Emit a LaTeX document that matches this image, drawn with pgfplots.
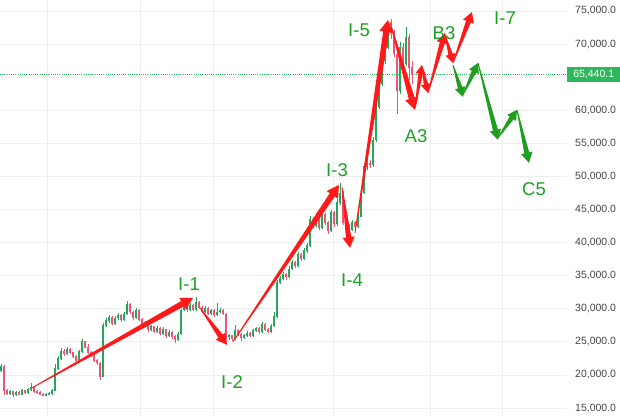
\documentclass[border=0pt]{standalone}
\usepackage{fontspec}
\setmainfont{Liberation Sans}
\usepackage{pgfplots}
\pgfplotsset{compat=1.18}
\usepackage{pgfplotstable}
\usetikzlibrary{calc}

\definecolor{cgreen}{RGB}{38,166,91}
\definecolor{cred}{RGB}{239,83,117}
\definecolor{arred}{RGB}{255,25,25}
\definecolor{argreen}{RGB}{32,158,32}
\definecolor{labgreen}{RGB}{28,160,36}
\definecolor{pricegreen}{RGB}{46,184,92}
\definecolor{gridgray}{RGB}{238,238,238}
\definecolor{tickgray}{RGB}{70,70,70}

% tapered arrow: [scale], colour, x1, y1, x2, y2
\newcommand{\tarr}[6][1]{%
  \coordinate (tA) at (axis cs:#3,#4);
  \coordinate (tB) at (axis cs:#5,#6);
  \coordinate (tC) at ($(tB)!#1*12pt!(tA)$);
  \fill[#2] ($(tA)!0.4pt!90:(tB)$) -- ($(tC)!#1*3pt!90:(tB)$) -- ($(tC)!#1*6.8pt!90:(tB)$) -- (tB)
     -- ($(tC)!#1*6.8pt!-90:(tB)$) -- ($(tC)!#1*3pt!-90:(tB)$) -- ($(tA)!0.4pt!-90:(tB)$) -- cycle;}

\pgfplotstableread{
x o h l c
1 20600 21700 20400 21300
4 21300 21500 17000 17600
7 17600 17900 16900 17200
10 17200 17700 16900 17500
13 17500 17600 16700 17000
16 17000 17600 16800 17400
19 17400 17500 16900 17100
22 17100 17800 16900 17600
25 17600 17700 17100 17300
28 17300 18000 17100 17800
31 17800 18800 17600 18100
34 18100 18300 17300 17500
37 17500 17700 17100 17300
40 17300 17500 16900 17100
43 17100 17300 16800 16900
46 16900 17200 16800 17000
49 17000 17400 16900 17200
52 17200 17800 17000 17600
55 17600 21600 17500 21000
58 21000 22800 20800 22500
61 22500 24000 22200 23600
64 23600 23900 22900 23200
67 23200 24200 23000 23800
70 23800 24000 23100 23400
73 23400 23500 22500 22800
76 22800 23000 21700 22200
79 22200 23800 22000 23500
82 23500 25400 23300 25000
85 25000 25200 24000 24200
88 24200 24600 23200 23400
91 23400 23600 22700 23000
94 23000 23300 22000 22200
97 22200 22400 21500 21800
100 21800 22000 19300 19800
103 19800 27800 19700 27500
106 27500 28600 27200 28200
109 28200 29100 27900 28700
112 28700 28900 27500 27800
115 27800 28900 27600 28600
118 28600 29300 28300 29000
121 29000 29200 28000 28300
124 28300 29500 28100 29200
127 29200 31200 29000 30600
130 30600 30900 29200 29500
133 29500 29700 28300 28600
136 28600 30100 28400 29800
139 29800 30000 28100 28400
142 28400 28600 27100 27400
145 27400 28200 27200 27900
148 27900 28000 26500 26800
151 26800 27600 26600 27300
154 27300 27400 26300 26600
157 26600 27400 26400 27100
160 27100 27200 26000 26300
163 26300 27200 26100 26900
166 26900 27000 25600 25900
169 25900 26800 25700 26500
172 26500 26600 25500 25800
175 25800 26000 24900 25300
178 25300 26500 25100 26200
181 26200 30000 26000 29800
184 29800 30600 29600 30300
187 30300 30500 29500 29800
190 29800 30800 29600 30500
193 30500 30700 29600 29900
196 29900 31800 29700 31000
199 31000 31200 29900 30200
202 30200 30400 29300 29600
205 29600 30400 29400 30100
208 30100 30300 29000 29300
211 29300 30000 29100 29700
214 29700 29900 28800 29100
217 29100 30800 28900 29500
220 29500 30100 29300 29800
223 29800 30000 29000 29200
226 29200 29400 25500 25800
229 25800 26200 25300 25900
232 25900 26100 25100 25500
235 25500 27600 25300 26800
238 26800 27000 25900 26200
241 26200 26400 25200 25600
244 25600 26200 25400 25900
247 25900 26600 25700 26300
250 26300 26500 25700 26000
253 26000 27000 25800 26700
256 26700 27300 26500 27000
259 27000 27200 26200 26500
262 26500 28000 26300 27600
265 27600 27800 26600 26900
268 26900 27100 26300 26600
271 26600 27700 26400 27400
274 27400 29500 27200 28800
277 28800 34300 28600 34000
280 34000 35000 33700 34600
283 34600 35600 34300 35200
286 35200 35400 34400 34800
289 34800 36400 34600 36000
292 36000 37400 35800 37000
295 37000 37200 36100 36500
298 36500 38600 36300 38200
301 38200 38500 37200 37600
304 37600 39200 37400 38800
307 38800 39900 38500 39500
310 39500 44000 39300 43500
313 43500 43800 42200 42600
316 42600 44400 42400 43800
319 43800 44000 41900 42200
322 42200 44800 42000 44200
325 44200 44500 42700 43000
328 43000 43200 41300 41800
331 41800 45000 41600 44500
334 44500 44800 42300 42800
337 42800 46600 42500 46000
340 46000 49000 45700 47500
343 47500 47800 42700 43000
346 43000 43400 42100 42500
349 42500 42800 41600 42000
352 42000 43400 41800 43000
355 43000 43300 42100 42400
358 42400 44500 42200 44000
361 44000 48000 43800 47500
364 47500 52000 47300 51500
367 51500 52600 51000 52000
370 52000 52500 51200 51800
373 51800 56000 51500 55500
376 55500 61000 55200 60500
379 60500 64500 60200 64000
382 64000 68000 63700 67500
385 67500 70200 67000 69500
388 69500 72600 69200 72000
391 72000 73800 70800 71800
394 71800 72200 68000 68500
397 68500 69000 59500 63000
400 63000 70300 62500 69500
403 69500 70200 66500 67000
406 67000 72600 66700 71000
409 71000 71500 64500 66500
412 66500 67500 64000 65440
}\candles

\begin{document}
\begin{tikzpicture}
\begin{axis}[
  at={(0,0)}, anchor=south west,
  scale only axis, width=567pt, height=416pt,
  xmin=0, xmax=567, ymin=13791, ymax=76662,
  clip=false,
  axis line style={draw=none},
  major tick length=0pt,
  xtick={47,140,213,333,430,502}, xticklabels={},
  ytick={15000,20000,25000,30000,35000,40000,45000,50000,55000,60000,70000,75000},
  extra y ticks={65000}, extra y tick labels={},
  xmajorgrids, ymajorgrids,
  grid style={draw=gridgray, line width=0.7pt},
  yticklabel pos=right,
  scaled y ticks=false,
  yticklabel style={anchor=west, inner sep=0pt, xshift=8pt, text=tickgray,
     font=\fontsize{10.5}{12}\selectfont,
     /pgf/number format/.cd, fixed, fixed zerofill, precision=1, 1000 sep={,}, assume math mode=true},
]
% wicks
\addplot[draw=none, mark=none, restrict expr to domain={\thisrow{c}-\thisrow{o}}{0:1e9},
  error bars/.cd, y dir=both, y explicit, error mark=none,
  error bar style={draw=cgreen, line width=0.6pt}]
  table[x=x, y expr={(\thisrow{h}+\thisrow{l})/2}, y error expr={(\thisrow{h}-\thisrow{l})/2}] {\candles};
\addplot[draw=none, mark=none, restrict expr to domain={\thisrow{c}-\thisrow{o}}{-1e9:-1},
  error bars/.cd, y dir=both, y explicit, error mark=none,
  error bar style={draw=cred, line width=0.6pt}]
  table[x=x, y expr={(\thisrow{h}+\thisrow{l})/2}, y error expr={(\thisrow{h}-\thisrow{l})/2}] {\candles};
% bodies
\addplot[draw=none, mark=none, restrict expr to domain={\thisrow{c}-\thisrow{o}}{0:1e9},
  error bars/.cd, y dir=both, y explicit, error mark=none,
  error bar style={draw=cgreen, line width=1.8pt}]
  table[x=x, y expr={(\thisrow{o}+\thisrow{c})/2}, y error expr={abs(\thisrow{c}-\thisrow{o})/2+60}] {\candles};
\addplot[draw=none, mark=none, restrict expr to domain={\thisrow{c}-\thisrow{o}}{-1e9:-1},
  error bars/.cd, y dir=both, y explicit, error mark=none,
  error bar style={draw=cred, line width=1.8pt}]
  table[x=x, y expr={(\thisrow{o}+\thisrow{c})/2}, y error expr={abs(\thisrow{c}-\thisrow{o})/2+60}] {\candles};

% current price line
\addplot[pricegreen, line width=0.6pt, dash pattern=on 1pt off 1.2pt] coordinates {(0,65440.1) (567,65440.1)};
\node[fill=pricegreen, text=white, anchor=west, inner xsep=3pt, inner ysep=0pt, minimum height=15pt,
  minimum width=53pt, font=\fontsize{10.5}{12}\selectfont] at (axis cs:567,65440.1) {65,440.1};

% red arrows
\tarr{arred}{32}{18050}{193}{31646}
\tarr[0.9]{arred}{200}{30135}{227}{24546}
\tarr{arred}{233}{25000}{339}{48716}
\tarr[0.9]{arred}{342}{48413}{350}{39199}
\tarr{arred}{355}{41465}{388}{73640}
\tarr{arred}{390}{73338}{415}{60045}
\tarr[0.75]{arred}{415}{60347}{422}{66843}
\tarr[0.75]{arred}{422}{66541}{428}{62613}
\tarr[0.85]{arred}{428}{62613}{445}{71677}
\tarr[0.75]{arred}{445}{71375}{453}{67145}
\tarr[0.85]{arred}{453}{67145}{472}{74849}
% green arrows
\tarr[0.8]{argreen}{453}{66843}{463}{62009}
\tarr[0.8]{argreen}{463}{62311}{478}{67145}
\tarr[0.85]{argreen}{478}{67145}{498}{55513}
\tarr[0.8]{argreen}{498}{55815}{517}{60045}
\tarr[0.85]{argreen}{517}{60045}{529}{52039}

% labels
\begin{scope}[every node/.style={text=labgreen, font=\fontsize{18.5}{20}\selectfont, inner sep=0pt}]
\node at (axis cs:189,33761) {I-1};
\node at (axis cs:232,18956) {I-2};
\node at (axis cs:337,50981) {I-3};
\node at (axis cs:352,34365) {I-4};
\node at (axis cs:359,72130) {I-5};
\node at (axis cs:416,56118) {A3};
\node at (axis cs:444,71677) {B3};
\node at (axis cs:505,73943) {I-7};
\node at (axis cs:534,48111) {C5};
\end{scope}
\end{axis}
\pgfresetboundingbox
\path (0,0) rectangle (620pt,416pt);
\end{tikzpicture}
\end{document}
